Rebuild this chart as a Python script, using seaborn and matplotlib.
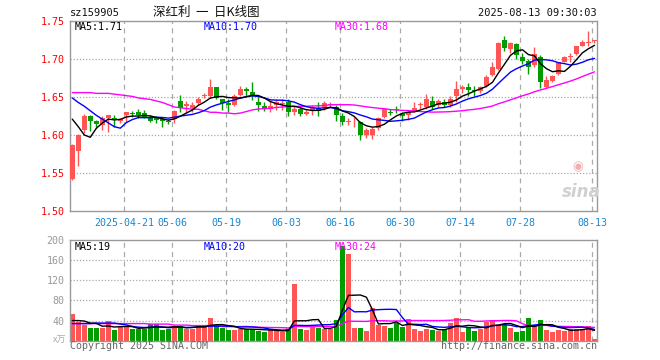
import numpy as np
import pandas as pd
import matplotlib
matplotlib.use("Agg")
import matplotlib.pyplot as plt
import seaborn as sns

# ---------------- data ----------------
opens = [1.542, 1.579, 1.606, 1.625, 1.618, 1.613, 1.623, 1.622, 1.619, 1.626,
         1.629, 1.631, 1.629, 1.624, 1.622, 1.621, 1.618, 1.621, 1.645, 1.638,
         1.636, 1.642, 1.652, 1.651, 1.663, 1.647, 1.642, 1.639, 1.653, 1.661,
         1.657, 1.643, 1.638, 1.635, 1.639, 1.641, 1.643, 1.631, 1.635, 1.628,
         1.632, 1.636, 1.637, 1.640, 1.637, 1.625, 1.617, 1.618, 1.617, 1.600,
         1.600, 1.609, 1.624, 1.631, 1.634, 1.628, 1.626, 1.630, 1.640, 1.637,
         1.645, 1.640, 1.644, 1.640, 1.651, 1.661, 1.663, 1.660, 1.658, 1.665,
         1.679, 1.687, 1.725, 1.714, 1.720, 1.703, 1.698, 1.692, 1.703, 1.663,
         1.671, 1.680, 1.697, 1.703, 1.707, 1.718, 1.722, 1.724]
highs = [1.588, 1.601, 1.628, 1.626, 1.620, 1.625, 1.627, 1.627, 1.623, 1.631,
         1.632, 1.635, 1.633, 1.626, 1.625, 1.624, 1.621, 1.633, 1.653, 1.645,
         1.643, 1.650, 1.656, 1.674, 1.664, 1.648, 1.647, 1.654, 1.665, 1.663,
         1.670, 1.650, 1.643, 1.645, 1.647, 1.647, 1.647, 1.638, 1.638, 1.633,
         1.640, 1.643, 1.645, 1.643, 1.640, 1.629, 1.622, 1.624, 1.618, 1.609,
         1.611, 1.624, 1.635, 1.634, 1.638, 1.630, 1.631, 1.643, 1.644, 1.654,
         1.651, 1.647, 1.647, 1.651, 1.671, 1.666, 1.669, 1.665, 1.665, 1.679,
         1.696, 1.723, 1.731, 1.723, 1.722, 1.708, 1.700, 1.716, 1.706, 1.678,
         1.679, 1.697, 1.705, 1.708, 1.718, 1.726, 1.737, 1.726]
lows = [1.540, 1.559, 1.603, 1.605, 1.611, 1.607, 1.604, 1.611, 1.616, 1.617,
        1.624, 1.623, 1.622, 1.617, 1.616, 1.611, 1.614, 1.616, 1.630, 1.629,
        1.631, 1.639, 1.649, 1.649, 1.647, 1.633, 1.631, 1.638, 1.652, 1.652,
        1.646, 1.632, 1.632, 1.630, 1.633, 1.633, 1.625, 1.626, 1.625, 1.626,
        1.626, 1.625, 1.633, 1.637, 1.619, 1.613, 1.613, 1.611, 1.594, 1.596,
        1.595, 1.607, 1.622, 1.626, 1.629, 1.619, 1.620, 1.630, 1.635, 1.635,
        1.635, 1.637, 1.637, 1.637, 1.644, 1.655, 1.652, 1.652, 1.656, 1.663,
        1.678, 1.686, 1.711, 1.708, 1.701, 1.694, 1.680, 1.690, 1.662, 1.662,
        1.670, 1.679, 1.696, 1.697, 1.706, 1.717, 1.717, 1.721]
closes = [1.587, 1.600, 1.625, 1.618, 1.614, 1.622, 1.626, 1.620, 1.621, 1.630,
          1.628, 1.626, 1.624, 1.618, 1.620, 1.619, 1.617, 1.632, 1.636, 1.641,
          1.639, 1.648, 1.653, 1.663, 1.649, 1.642, 1.640, 1.652, 1.661, 1.658,
          1.651, 1.639, 1.635, 1.638, 1.644, 1.642, 1.631, 1.635, 1.628, 1.631,
          1.637, 1.632, 1.642, 1.641, 1.627, 1.617, 1.618, 1.619, 1.600, 1.607,
          1.608, 1.622, 1.634, 1.629, 1.633, 1.625, 1.630, 1.636, 1.641, 1.647,
          1.637, 1.645, 1.640, 1.648, 1.661, 1.663, 1.660, 1.658, 1.663, 1.677,
          1.690, 1.722, 1.715, 1.722, 1.706, 1.698, 1.690, 1.707, 1.670, 1.673,
          1.678, 1.696, 1.703, 1.704, 1.717, 1.723, 1.723, 1.725]
volumes = [53, 38, 31, 25, 25, 25, 40, 21, 28, 28,
           23, 23, 24, 33, 33, 21, 23, 30, 30, 24,
           24, 31, 28, 45, 31, 25, 21, 21, 24, 24,
           24, 19, 18, 21, 21, 18, 23, 113, 23, 21,
           28, 25, 24, 24, 41, 188, 173, 26, 26, 19,
           64, 31, 30, 26, 36, 28, 43, 24, 20, 24,
           21, 20, 24, 36, 46, 18, 28, 20, 24, 38,
           41, 32, 34, 26, 18, 20, 46, 32, 41, 21,
           18, 21, 20, 23, 23, 23, 30, 3]

# moving-average values at the left edge (window reaches before the chart)
ma5_lead = [1.621, 1.611, 1.600, 1.597]
ma10_lead = [1.649, 1.643, 1.638, 1.632, 1.626, 1.621, 1.616, 1.611, 1.609]
ma30_lead = [1.656, 1.656, 1.656, 1.656, 1.655, 1.655, 1.655, 1.654, 1.653, 1.652,
             1.651, 1.649, 1.648, 1.647, 1.645, 1.643, 1.640, 1.637, 1.636, 1.635,
             1.634, 1.634, 1.632, 1.630, 1.630, 1.629, 1.629, 1.628, 1.629]
vma5_lead = [40, 40, 39, 35]
vma10_lead = [34, 34, 34, 34, 35, 35, 35, 35, 33]
vma30_lead = [34] * 13 + [33] * 4 + [31] * 3 + [30] * 5 + [28] * 4

tick_index = [9, 17, 26, 36, 45, 55, 65, 75, 87]
tick_labels = ["2025-04-21", "05-06", "05-19", "06-03", "06-16",
               "06-30", "07-14", "07-28", "08-13"]
price_ticks = [1.50, 1.55, 1.60, 1.65, 1.70, 1.75]
vol_ticks = [40, 80, 120, 160, 200]

# ---------------- styling ----------------
sns.set_theme(style="white")
plt.rcParams["font.family"] = ["DejaVu Sans Mono", "Noto Sans CJK SC"]
CJK = ["Noto Sans CJK SC", "DejaVu Sans"]
RED = "#ff5555"
GREEN = "#009c00"
GRID = "#aaaaaa"

W, H = 660, 360
fig = plt.figure(figsize=(6.6, 3.6), dpi=100)
fig.patch.set_facecolor("white")


def fx(px):
    return px / W


def fy(py):
    return 1 - py / H


ax = fig.add_axes([fx(70), fy(210.7), fx(597) - fx(70), fy(20.7) - fy(210.7)])
axv = fig.add_axes([fx(70), fy(340.7), fx(597) - fx(70), fy(240) - fy(340.7)])

n = len(closes)
idx = np.arange(n)
o = np.array(opens)
c = np.array(closes)
h = np.array(highs)
l = np.array(lows)
v = np.array(volumes, dtype=float)
up = c >= o
colors = np.where(up, RED, GREEN)


def moving(values, win, lead):
    s = pd.Series(values, dtype=float).rolling(win).mean()
    s.iloc[:len(lead)] = lead
    return s.values


ma_df = pd.DataFrame({
    "i": idx,
    "ma5": moving(c, 5, ma5_lead),
    "ma10": moving(c, 10, ma10_lead),
    "ma30": moving(c, 30, ma30_lead),
    "vma5": moving(v, 5, vma5_lead),
    "vma10": moving(v, 10, vma10_lead),
    "vma30": moving(v, 30, vma30_lead),
})

xlim = (-0.38, n - 1 + 0.42)
grid_x = [t - 0.38 for t in tick_index]

for a in (ax, axv):
    a.set_facecolor("white")
    for sp in a.spines.values():
        sp.set_color("#999999")
        sp.set_linewidth(1.0)
    a.set_xlim(*xlim)
    for gx in grid_x:
        a.axvline(gx, color=GRID, lw=0.9, ls=(0, (4, 3.5)), zorder=0)
    a.tick_params(length=0)

# ---- price panel ----
ax.set_ylim(1.50, 1.751)
for yv in price_ticks[1:-1]:
    ax.axhline(yv, color=GRID, lw=0.9, ls=(0, (1, 1.5)), zorder=0)

ax.vlines(idx, l, h, colors=colors, lw=1.0, zorder=2)
body_h = np.maximum(np.abs(c - o), 0.0007)
body_b = np.minimum(o, c)
ax.bar(idx, body_h, bottom=body_b, width=0.8, color=colors, linewidth=0, zorder=3)

sns.lineplot(data=ma_df, x="i", y="ma30", ax=ax, color="#ff00ff", lw=1.0, zorder=4)
sns.lineplot(data=ma_df, x="i", y="ma10", ax=ax, color="#0000ff", lw=1.0, zorder=5)
sns.lineplot(data=ma_df, x="i", y="ma5", ax=ax, color="#000000", lw=1.0, zorder=6)

ax.set_yticks(price_ticks)
ax.set_yticklabels([f"{t:.2f}" for t in price_ticks], color="#ff0000", fontsize=7.2)
ax.set_xticks(grid_x)
ax.set_xticklabels(tick_labels, color="#1a86d0", fontsize=7.2)
ax.tick_params(axis="y", pad=4)
ax.tick_params(axis="x", pad=5)
ax.set_xlabel("")
ax.set_ylabel("")

# ---- volume panel ----
axv.set_ylim(0, 200)
for yv in vol_ticks[:-1]:
    axv.axhline(yv, color=GRID, lw=0.9, ls=(0, (1, 1.5)), zorder=0)
axv.bar(idx, v, width=0.8, color=colors, linewidth=0, zorder=2)
sns.lineplot(data=ma_df, x="i", y="vma30", ax=axv, color="#ff00ff", lw=1.0, zorder=4)
sns.lineplot(data=ma_df, x="i", y="vma10", ax=axv, color="#0000ff", lw=1.0, zorder=5)
sns.lineplot(data=ma_df, x="i", y="vma5", ax=axv, color="#000000", lw=1.0, zorder=6)
axv.set_yticks(vol_ticks)
axv.set_yticklabels([str(t) for t in vol_ticks], color="#999999", fontsize=7.2)
axv.tick_params(axis="y", pad=4)
axv.set_xticks([])
axv.set_xlabel("")
axv.set_ylabel("")

# ---- texts ----
fig.text(fx(70), fy(13), "sz159905", fontsize=7.5, ha="left", va="center", color="#111111")
fig.text(fx(206), fy(12), "深红利  一  日K线图", fontsize=9, ha="center", va="center",
         color="#111111", family=CJK)
fig.text(fx(597), fy(13), "2025-08-13 09:30:03", fontsize=7.5, ha="right", va="center",
         color="#111111")

fig.text(fx(74.5), fy(27), "MA5:1.71", fontsize=7.2, ha="left", va="center", color="#000000")
fig.text(fx(204), fy(27), "MA10:1.70", fontsize=7.2, ha="left", va="center", color="#0000ff")
fig.text(fx(334.5), fy(27), "MA30:1.68", fontsize=7.2, ha="left", va="center", color="#ff00ff")

fig.text(fx(74.5), fy(246.5), "MA5:19", fontsize=7.2, ha="left", va="center", color="#000000")
fig.text(fx(204), fy(246.5), "MA10:20", fontsize=7.2, ha="left", va="center", color="#0000ff")
fig.text(fx(334.5), fy(246.5), "MA30:24", fontsize=7.2, ha="left", va="center", color="#ff00ff")

fig.text(fx(66), fy(340), "x万", fontsize=6.5, ha="right", va="center", color="#aaaaaa",
         family=CJK)
fig.text(fx(70), fy(346), "Copyright 2025 SINA.COM", fontsize=7.2, ha="left", va="center",
         color="#666666")
fig.text(fx(597), fy(346), "http://finance.sina.com.cn", fontsize=7.2, ha="right",
         va="center", color="#666666")

# sina watermark
fig.text(fx(581), fy(192), "sina", fontsize=12, ha="center", va="center", color="#d0d0d0",
         style="italic", weight="bold", family=["DejaVu Sans"])
fig.text(fx(578), fy(167), "◉", fontsize=9, ha="center", va="center", color="#f0b0b0",
         family=["DejaVu Sans"])

fig.savefig("out.png", dpi=100, facecolor="white")
